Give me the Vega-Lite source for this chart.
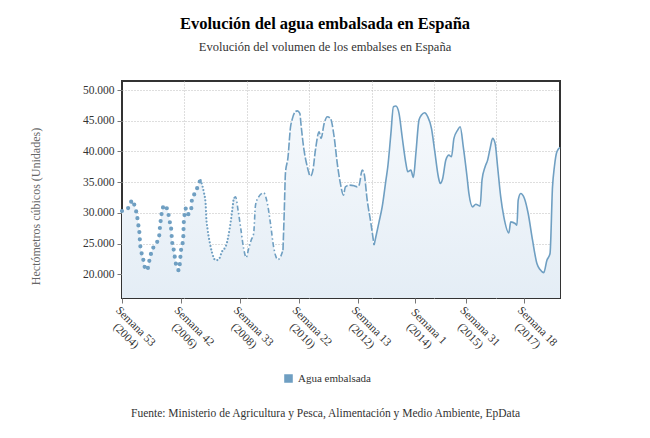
{
  "$schema": "https://vega.github.io/schema/vega-lite/v6.json",
  "width": 438,
  "height": 217,
  "autosize": {"type": "none"},
  "padding": {"left": 122, "top": 81, "right": 90, "bottom": 140},
  "background": "white",
  "title": {
    "text": "Evolución del agua embalsada en España",
    "subtitle": "Evolución del volumen de los embalses en España",
    "font": "Liberation Serif",
    "fontSize": 16.5,
    "fontWeight": "bold",
    "color": "#000000",
    "subtitleFont": "Liberation Serif",
    "subtitleFontSize": 12.5,
    "subtitleColor": "#333333",
    "subtitlePadding": 8,
    "anchor": "middle",
    "dx": -16,
    "offset": 28
  },
  "config": {
    "view": {"stroke": "#333333", "strokeWidth": 2},
    "font": "Liberation Serif"
  },
  "data": {
    "values": [
      {"semana": 0, "volumen": 30300}, {"semana": 12, "volumen": 31000}, {"semana": 16, "volumen": 32060},
      {"semana": 21, "volumen": 30870}, {"semana": 24, "volumen": 29600}, {"semana": 26, "volumen": 28150},
      {"semana": 28, "volumen": 26630}, {"semana": 29, "volumen": 25000}, {"semana": 31, "volumen": 23640},
      {"semana": 34, "volumen": 22450}, {"semana": 36, "volumen": 21300}, {"semana": 40, "volumen": 20650},
      {"semana": 44, "volumen": 22280}, {"semana": 47, "volumen": 23540}, {"semana": 53, "volumen": 24840},
      {"semana": 59, "volumen": 25820}, {"semana": 61, "volumen": 27830}, {"semana": 64, "volumen": 30160},
      {"semana": 68, "volumen": 31250}, {"semana": 74, "volumen": 30000}, {"semana": 76, "volumen": 28800},
      {"semana": 79, "volumen": 27170}, {"semana": 80, "volumen": 25650}, {"semana": 83, "volumen": 23900},
      {"semana": 85, "volumen": 22550}, {"semana": 87, "volumen": 21410}, {"semana": 91, "volumen": 20650},
      {"semana": 95, "volumen": 24190}, {"semana": 98, "volumen": 25650}, {"semana": 99, "volumen": 28360},
      {"semana": 100, "volumen": 29450}, {"semana": 102, "volumen": 30700}, {"semana": 105, "volumen": 29730},
      {"semana": 111, "volumen": 30710}, {"semana": 112, "volumen": 32060}, {"semana": 119, "volumen": 33580},
      {"semana": 123, "volumen": 34790}, {"semana": 126, "volumen": 35330}, {"semana": 131, "volumen": 33420},
      {"semana": 134, "volumen": 31520}, {"semana": 135, "volumen": 29340}, {"semana": 137, "volumen": 27450},
      {"semana": 141, "volumen": 25000}, {"semana": 144, "volumen": 23640}, {"semana": 150, "volumen": 22280},
      {"semana": 155, "volumen": 22390}, {"semana": 160, "volumen": 23640}, {"semana": 167, "volumen": 24730},
      {"semana": 173, "volumen": 27710}, {"semana": 179, "volumen": 32340}, {"semana": 182, "volumen": 32600},
      {"semana": 186, "volumen": 30430}, {"semana": 190, "volumen": 27710}, {"semana": 195, "volumen": 24190},
      {"semana": 199, "volumen": 22720}, {"semana": 203, "volumen": 24190}, {"semana": 207, "volumen": 25540},
      {"semana": 211, "volumen": 26630}, {"semana": 214, "volumen": 31250}, {"semana": 219, "volumen": 32600},
      {"semana": 227, "volumen": 33250}, {"semana": 233, "volumen": 31520}, {"semana": 238, "volumen": 28260},
      {"semana": 243, "volumen": 24460}, {"semana": 250, "volumen": 22390}, {"semana": 254, "volumen": 22830},
      {"semana": 258, "volumen": 23910}, {"semana": 260, "volumen": 30000}, {"semana": 262, "volumen": 36500},
      {"semana": 266, "volumen": 39000}, {"semana": 270, "volumen": 43900}, {"semana": 273, "volumen": 45300},
      {"semana": 278, "volumen": 46500}, {"semana": 281, "volumen": 46600}, {"semana": 285, "volumen": 46200},
      {"semana": 287, "volumen": 44290}, {"semana": 291, "volumen": 40750}, {"semana": 297, "volumen": 37500},
      {"semana": 302, "volumen": 35980}, {"semana": 306, "volumen": 36960}, {"semana": 310, "volumen": 40220},
      {"semana": 316, "volumen": 43200}, {"semana": 319, "volumen": 42120}, {"semana": 324, "volumen": 44560},
      {"semana": 329, "volumen": 45650}, {"semana": 334, "volumen": 45380}, {"semana": 340, "volumen": 42390},
      {"semana": 345, "volumen": 38050}, {"semana": 350, "volumen": 34790}, {"semana": 355, "volumen": 32880},
      {"semana": 358, "volumen": 34230}, {"semana": 364, "volumen": 34510}, {"semana": 372, "volumen": 34400},
      {"semana": 377, "volumen": 34230}, {"semana": 380, "volumen": 34510}, {"semana": 385, "volumen": 36960},
      {"semana": 388, "volumen": 36420}, {"semana": 393, "volumen": 32060}, {"semana": 399, "volumen": 28260},
      {"semana": 404, "volumen": 24730}, {"semana": 408, "volumen": 26630}, {"semana": 412, "volumen": 28530},
      {"semana": 417, "volumen": 30970}, {"semana": 423, "volumen": 35330}, {"semana": 426, "volumen": 37500},
      {"semana": 431, "volumen": 42930}, {"semana": 435, "volumen": 47280}, {"semana": 439, "volumen": 47390},
      {"semana": 444, "volumen": 46200}, {"semana": 449, "volumen": 42390}, {"semana": 455, "volumen": 38050},
      {"semana": 458, "volumen": 36680}, {"semana": 463, "volumen": 36960}, {"semana": 467, "volumen": 35760},
      {"semana": 471, "volumen": 39670}, {"semana": 476, "volumen": 45110}, {"semana": 480, "volumen": 45920},
      {"semana": 485, "volumen": 46300}, {"semana": 490, "volumen": 45650}, {"semana": 496, "volumen": 43750},
      {"semana": 501, "volumen": 40220}, {"semana": 507, "volumen": 35880}, {"semana": 510, "volumen": 34790},
      {"semana": 514, "volumen": 35600}, {"semana": 519, "volumen": 38590}, {"semana": 524, "volumen": 39400},
      {"semana": 528, "volumen": 39130}, {"semana": 532, "volumen": 42120}, {"semana": 538, "volumen": 43480},
      {"semana": 542, "volumen": 44020}, {"semana": 547, "volumen": 40750}, {"semana": 553, "volumen": 35880},
      {"semana": 556, "volumen": 33160}, {"semana": 562, "volumen": 30970}, {"semana": 567, "volumen": 31410},
      {"semana": 574, "volumen": 31090}, {"semana": 577, "volumen": 35330}, {"semana": 582, "volumen": 37500},
      {"semana": 586, "volumen": 38590}, {"semana": 590, "volumen": 40490}, {"semana": 594, "volumen": 42120},
      {"semana": 598, "volumen": 41310}, {"semana": 602, "volumen": 37500}, {"semana": 607, "volumen": 32600},
      {"semana": 612, "volumen": 29340}, {"semana": 620, "volumen": 26730}, {"semana": 623, "volumen": 28530},
      {"semana": 630, "volumen": 28260}, {"semana": 633, "volumen": 27990}, {"semana": 635, "volumen": 32060},
      {"semana": 639, "volumen": 33160}, {"semana": 645, "volumen": 32340}, {"semana": 651, "volumen": 29890},
      {"semana": 658, "volumen": 25540}, {"semana": 665, "volumen": 21740}, {"semana": 670, "volumen": 20760},
      {"semana": 676, "volumen": 20270}, {"semana": 681, "volumen": 22280}, {"semana": 686, "volumen": 23370},
      {"semana": 690, "volumen": 34230}, {"semana": 693, "volumen": 37500}, {"semana": 697, "volumen": 39940},
      {"semana": 702, "volumen": 40650}
    ]
  },
  "encoding": {
    "y": {
      "field": "volumen",
      "type": "quantitative",
      "scale": {"domain": [16130, 51470], "nice": false, "zero": false},
      "axis": {
        "values": [20000, 25000, 30000, 35000, 40000, 45000, 50000],
        "labelExpr": "replace(format(datum.value, ','), ',', '.')",
        "grid": true,
        "gridDash": [1, 2],
        "gridColor": "#bdbdbd",
        "domain": false,
        "tickColor": "#777777",
        "tickSize": 5,
        "labelFont": "Liberation Serif",
        "labelFontSize": 11.5,
        "labelColor": "#333333",
        "labelPadding": 3,
        "title": "Hectómetros cúbicos (Unidades)",
        "titleFont": "Liberation Serif",
        "titleFontSize": 12,
        "titleFontWeight": "normal",
        "titleColor": "#666666",
        "titleX": -87,
        "titleY": 125,
        "titleAngle": -90,
        "titleAlign": "center",
        "titleBaseline": "middle"
      }
    }
  },
  "layer": [
    {
      "mark": {
        "type": "area",
        "interpolate": "monotone",
        "clip": true,
        "color": {
          "gradient": "linear",
          "x1": 0, "y1": 1, "x2": 0, "y2": 0,
          "stops": [
            {"offset": 0, "color": "#dbe7f2"},
            {"offset": 1, "color": "#f6f9fc"}
          ]
        }
      },
      "encoding": {
        "x": {
          "field": "semana",
          "type": "quantitative",
          "scale": {"domain": [0, 702], "nice": false, "zero": false},
          "axis": {
            "orient": "top",
            "values": [100, 200, 300, 400, 500, 600],
            "labels": false,
            "ticks": false,
            "domain": false,
            "grid": true,
            "gridDash": [1, 2],
            "gridColor": "#bdbdbd",
            "title": null
          }
        }
      }
    },
    {
      "transform": [{"filter": "datum.semana <= 126"}],
      "mark": {"type": "line", "interpolate": "monotone", "color": "#6f9fc2", "strokeWidth": 4.2, "strokeCap": "round", "strokeDash": [0, 7]},
      "encoding": {
        "x": {"field": "semana", "type": "quantitative", "scale": {"domain": [0, 702], "nice": false, "zero": false}, "axis": null}
      }
    },
    {
      "transform": [{"filter": "datum.semana >= 126 && datum.semana <= 179"}],
      "mark": {"type": "line", "interpolate": "monotone", "color": "#6f9fc2", "strokeWidth": 2.2, "strokeCap": "round", "strokeDash": [0, 3.5]},
      "encoding": {
        "x": {"field": "semana", "type": "quantitative", "scale": {"domain": [0, 702], "nice": false, "zero": false}, "axis": null}
      }
    },
    {
      "transform": [{"filter": "datum.semana >= 179 && datum.semana <= 258"}],
      "mark": {"type": "line", "interpolate": "monotone", "color": "#6f9fc2", "strokeWidth": 1.6, "strokeDash": [5, 2.5, 1.5, 2.5]},
      "encoding": {
        "x": {"field": "semana", "type": "quantitative", "scale": {"domain": [0, 702], "nice": false, "zero": false}, "axis": null}
      }
    },
    {
      "transform": [{"filter": "datum.semana >= 258 && datum.semana <= 404"}],
      "mark": {"type": "line", "interpolate": "monotone", "color": "#6f9fc2", "strokeWidth": 1.6, "strokeDash": [8, 2]},
      "encoding": {
        "x": {"field": "semana", "type": "quantitative", "scale": {"domain": [0, 702], "nice": false, "zero": false}, "axis": null}
      }
    },
    {
      "transform": [{"filter": "datum.semana >= 404"}],
      "mark": {"type": "line", "interpolate": "monotone", "strokeWidth": 1.6},
      "encoding": {
        "x": {
          "field": "semana",
          "type": "quantitative",
          "scale": {"domain": [0, 702], "nice": false, "zero": false},
          "axis": {
            "orient": "bottom",
            "values": [0, 94, 189, 283, 378, 470, 552, 644],
            "labelExpr": "datum.value == 0 ? ['Semana 53', '(2004)'] : datum.value == 94 ? ['Semana 42', '(2006)'] : datum.value == 189 ? ['Semana 33', '(2008)'] : datum.value == 283 ? ['Semana 22', '(2010)'] : datum.value == 378 ? ['Semana 13', '(2012)'] : datum.value == 470 ? ['Semana 1', '(2014)'] : datum.value == 552 ? ['Semana 31', '(2015)'] : ['Semana 18', '(2017)']",
            "labelAngle": 45,
            "labelAlign": "center",
            "labelBaseline": "top",
            "labelOffset": 17,
            "labelPadding": 19,
            "labelFont": "Liberation Serif",
            "labelFontSize": 11.5,
            "labelColor": "#333333",
            "labelLineHeight": 13.5,
            "labelOverlap": false,
            "labelFlush": false,
            "labelBound": false,
            "grid": false,
            "domain": false,
            "tickSize": 5,
            "tickColor": "#777777",
            "title": "Fuente: Ministerio de Agricultura y Pesca, Alimentación y Medio Ambiente, EpData",
            "titleX": 203,
            "titleY": 115,
            "titleAlign": "center",
            "titleBaseline": "middle",
            "titleFont": "Liberation Serif",
            "titleFontSize": 11.5,
            "titleFontWeight": "normal",
            "titleColor": "#333333"
          }
        },
        "color": {
          "datum": "Agua embalsada",
          "type": "nominal",
          "scale": {"range": ["#6f9fc2"]},
          "legend": {
            "orient": "none",
            "legendX": 161,
            "legendY": 292,
            "title": null,
            "symbolType": "square",
            "symbolFillColor": "#6f9fc2",
            "symbolStrokeColor": "#6f9fc2",
            "symbolSize": 50,
            "labelFont": "Liberation Serif",
            "labelFontSize": 11,
            "labelColor": "#333333"
          }
        }
      }
    }
  ],
  "resolve": {"axis": {"x": "independent"}}
}
